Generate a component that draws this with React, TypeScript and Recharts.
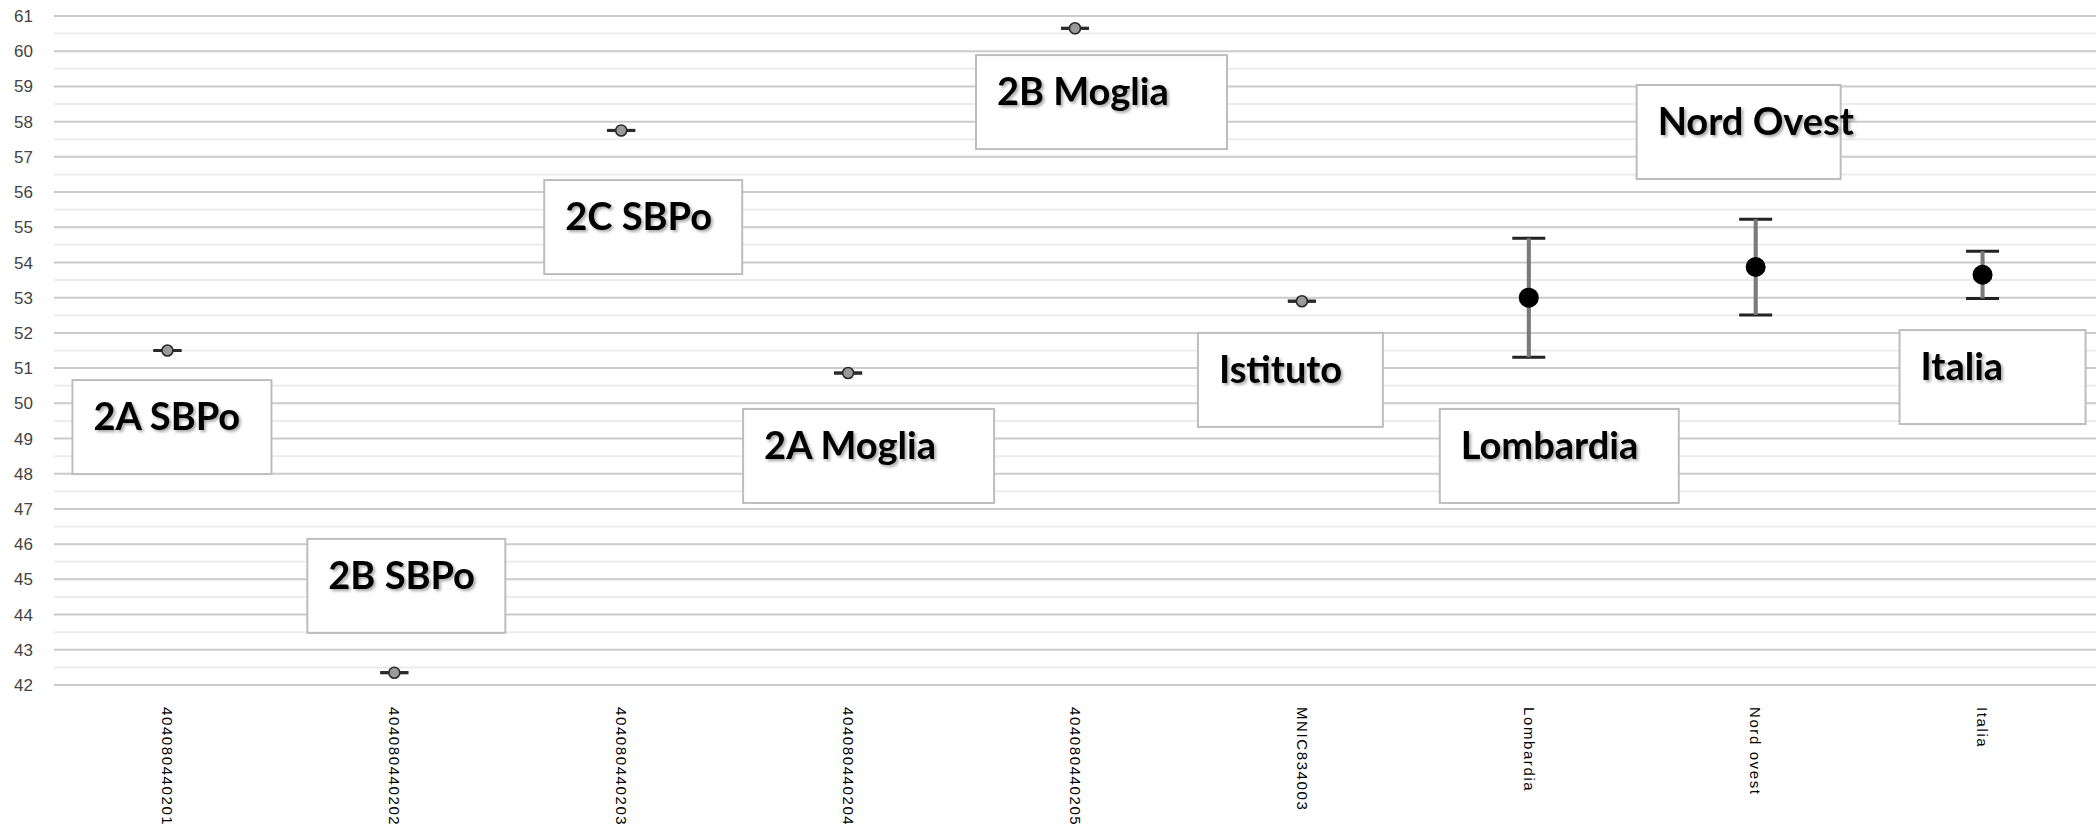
import {
  ComposedChart, Scatter, ErrorBar, XAxis, YAxis, CartesianGrid, ReferenceDot,
} from 'recharts'

// categories on the x axis (the codes are cut by the bottom edge in the original)
const CATEGORIES = [
  '404080440201', '404080440202', '404080440203', '404080440204', '404080440205',
  'MNIC834003', 'Lombardia', 'Nord ovest', 'Italia',
]

// single values for the classes / school
const SCHOOL_CATS = ['404080440201', '404080440202', '404080440203', '404080440204', '404080440205', 'MNIC834003']
const SCHOOL_VALUES = [51.5, 42.35, 57.75, 50.86, 60.65, 52.9]

// reference areas, mean with interval
const AREA_CATS = ['Lombardia', 'Nord ovest', 'Italia']
const AREA_VALUES = [53.0, 53.87, 53.65]
const AREA_ERRORS = [1.69, 1.36, 0.67]

const Y_TICKS = [42, 43, 44, 45, 46, 47, 48, 49, 50, 51, 52, 53, 54, 55, 56, 57, 58, 59, 60, 61]

// text of the callout boxes, one per category
const NOTE_TEXTS = ['2A SBPo', '2B SBPo', '2C SBPo', '2A Moglia', '2B Moglia', 'Istituto', 'Lombardia', 'Nord Ovest', 'Italia']

// where the callout boxes sit: top edge in axis units, x shift from the category centre, width
const NOTE_LAYOUT = [
  { top: 50.66, dx: -95, w: 199 },
  { top: 46.15, dx: -87, w: 198 },
  { top: 56.34, dx: -77, w: 198 },
  { top: 49.84, dx: -105, w: 251 },
  { top: 59.89, dx: -99, w: 251 },
  { top: 52.0, dx: -104, w: 185 },
  { top: 49.84, dx: -89, w: 239 },
  { top: 59.04, dx: -119, w: 204 },
  { top: 52.08, dx: -83, w: 186 },
]
const NOTE_H = 94

const W = 2096
const H = 824
const TICK_FONT = '"Liberation Sans", Arial, sans-serif'

const schoolData = SCHOOL_CATS.map((name, i) => ({ name, value: SCHOOL_VALUES[i], err: [0, 0] }))
const areaData = AREA_CATS.map((name, i) => ({ name, value: AREA_VALUES[i], err: AREA_ERRORS[i] }))
const rows = CATEGORIES.map(name => ({ name }))
const halfTicks = Y_TICKS.slice(0, -1).map(t => t + 0.5)

function CategoryTick({ x, y, payload }: any) {
  return (
    <text
      transform={`translate(${x},${y}) rotate(90)`}
      dy="0.35em"
      textAnchor="start"
      fontSize={15}
      letterSpacing={1.6}
      fill="#000"
      fontFamily={TICK_FONT}
    >
      {payload.value}
    </text>
  )
}

function noteShape(i: number) {
  const { dx, w } = NOTE_LAYOUT[i]
  return (p: any) => {
    const left = p.cx + dx
    const top = p.cy
    return (
      <g>
        <rect x={left} y={top} width={w} height={NOTE_H} fill="#fff" stroke="#bdbdbd" strokeWidth={2} />
        <text
          x={left + 21}
          y={top + 50}
          fontSize={38}
          fontWeight={700}
          fontFamily="Lato, 'Open Sans', sans-serif"
          fill="#000"
          filter="url(#noteShadow)"
        >
          {NOTE_TEXTS[i]}
        </text>
      </g>
    )
  }
}

const SmallDot = (p: any) => (
  <circle cx={p.cx} cy={p.cy} r={5.5} fill="#9a9a9a" stroke="#2a2a2a" strokeWidth={1.6} />
)
const BigDot = (p: any) => <circle cx={p.cx} cy={p.cy} r={10} fill="#000" />

export default function App() {
  return (
    <div style={{ position: 'absolute', left: 0, top: 0, width: W, height: H, background: '#fff' }}>
      <svg width={0} height={0} style={{ position: 'absolute' }}>
        <defs>
          <filter id="noteShadow" x="-10%" y="-30%" width="130%" height="160%">
            <feDropShadow dx={2} dy={2} stdDeviation={1.5} floodColor="#000" floodOpacity={0.35} />
          </filter>
        </defs>
      </svg>
      <ComposedChart width={W} height={H} data={rows} margin={{ top: 16, right: 0, bottom: 0, left: 0 }}>
        <CartesianGrid vertical={false} horizontalValues={halfTicks} stroke="#ececec" strokeWidth={2} />
        <CartesianGrid vertical={false} horizontalValues={Y_TICKS} stroke="#cbcbcb" strokeWidth={2} />
        <XAxis
          dataKey="name"
          type="category"
          scale="band"
          allowDuplicatedCategory={false}
          height={139}
          axisLine={false}
          tickLine={false}
          tickMargin={16}
          interval={0}
          tick={<CategoryTick />}
        />
        <YAxis
          dataKey="value"
          type="number"
          domain={[42, 61]}
          ticks={Y_TICKS}
          interval={0}
          width={54}
          axisLine={false}
          tickLine={false}
          tickMargin={15}
          tick={{ fontSize: 17, fill: '#444', fontFamily: TICK_FONT }}
        />
        {NOTE_TEXTS.map((t, i) => (
          <ReferenceDot
            key={t}
            x={CATEGORIES[i]}
            y={NOTE_LAYOUT[i].top}
            r={0}
            ifOverflow="visible"
            shape={noteShape(i)}
          />
        ))}
        <Scatter data={schoolData} dataKey="value" shape={SmallDot} isAnimationActive={false}>
          <ErrorBar dataKey="err" direction="y" width={14} stroke="#2a2a2a" strokeWidth={3} />
        </Scatter>
        <Scatter data={areaData} dataKey="value" shape={BigDot} isAnimationActive={false}>
          <ErrorBar dataKey="err" direction="y" width={16.5} stroke="#222" strokeWidth={3} />
          <ErrorBar dataKey="err" direction="y" width={0} stroke="#7a7a7a" strokeWidth={4} />
        </Scatter>
      </ComposedChart>
    </div>
  )
}
